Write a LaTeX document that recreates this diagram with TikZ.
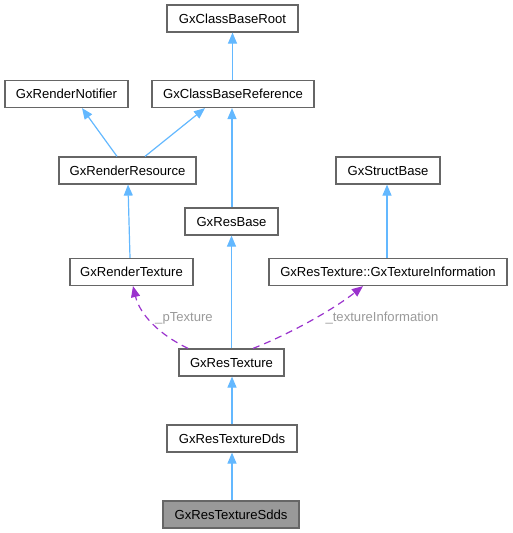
\documentclass[tikz,border=0pt]{standalone}
\usepackage{fontspec}
\setmainfont{Liberation Sans}
\usetikzlibrary{arrows.meta}
\definecolor{edgeblue}{HTML}{63B8FF}
\definecolor{edgepurple}{HTML}{9A32CD}
\definecolor{boxline}{HTML}{666666}
\definecolor{labelgray}{HTML}{9A9A9A}
\definecolor{hlfill}{HTML}{999999}
\tikzset{
  cls/.style={draw=boxline, line width=1.2pt, fill=white, rectangle, minimum height=27pt, inner sep=0pt, font=\fontsize{13.1}{15}\selectfont},
  hl/.style={cls, fill=hlfill},
  inherit/.style={draw=edgeblue, line width=1.2pt, -{Triangle[length=11pt,width=9pt]}},
  usage/.style={draw=edgepurple, line width=1.2pt, dash pattern=on 7pt off 5pt, -{Triangle[length=11pt,width=9pt]}},
  elabel/.style={text=labelgray, font=\fontsize{13.1}{15}\selectfont, inner sep=0pt},
}
\begin{document}
\begin{tikzpicture}[x=1pt,y=-1pt]
\useasboundingbox (0,0) rectangle (512,533);
\node[cls, minimum width=131pt] (root) at (232.5,18.5) {GxClassBaseRoot};
\node[cls, minimum width=123pt] (notifier) at (66.5,94) {GxRenderNotifier};
\node[cls, minimum width=162pt] (reference) at (233,94) {GxClassBaseReference};
\node[cls, minimum width=137pt] (resource) at (127.5,170.5) {GxRenderResource};
\node[cls, minimum width=104pt] (structbase) at (388,170.5) {GxStructBase};
\node[cls, minimum width=93pt] (resbase) at (231.5,221.5) {GxResBase};
\node[cls, minimum width=123pt] (rendertex) at (131.5,272) {GxRenderTexture};
\node[cls, minimum width=238pt] (texinfo) at (388,272) {GxResTexture::GxTextureInformation};
\node[cls, minimum width=105pt] (restex) at (231.5,362.5) {GxResTexture};
\node[cls, minimum width=130pt] (dds) at (232,438.5) {GxResTextureDds};
\node[hl, minimum width=136pt] (sdds) at (231,514.5) {GxResTextureSdds};

\draw[inherit] ([xshift=-0.5pt]reference.north) -- (root.south);
\draw[inherit] ([xshift=-10.5pt]resource.north) -- ([xshift=15.5pt]notifier.south);
\draw[inherit] ([xshift=17.5pt]resource.north) -- ([xshift=-28pt]reference.south);
\draw[inherit] ([xshift=0.5pt]resbase.north) -- ([xshift=-1pt]reference.south);
\draw[inherit] ([xshift=-1.5pt]rendertex.north) -- ([xshift=0.5pt]resource.south);
\draw[inherit] ([xshift=-1pt]texinfo.north) -- ([xshift=-1pt]structbase.south);
\draw[inherit] (restex.north) -- (resbase.south);
\draw[inherit] (dds.north) -- ([xshift=0.5pt]restex.south);
\draw[inherit] ([xshift=1pt]sdds.north) -- (dds.south);

\draw[usage] ([xshift=-43.5pt]restex.north) .. controls (160,335) and (140,315) .. ([xshift=1.5pt]rendertex.south);
\draw[usage] ([xshift=21.5pt]restex.north) .. controls (285,336) and (330,312) .. ([xshift=-25pt]texinfo.south);
\node[elabel] (lbl1) at (184,318) {\_pTexture};
\node[elabel] (lbl2) at (382,318) {\_textureInformation};
\end{tikzpicture}
\end{document}
